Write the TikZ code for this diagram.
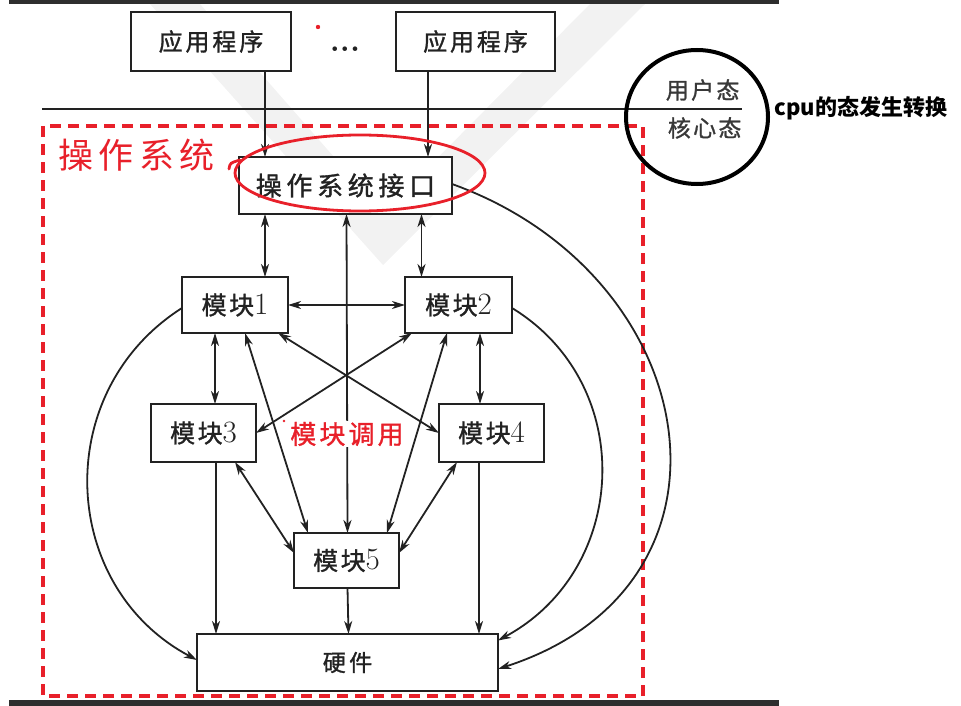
\documentclass[tikz,border=0pt]{standalone}
\usepackage{fontspec}
\newfontfamily\cjk{Noto Sans CJK SC}
\usetikzlibrary{arrows.meta,calc}
\definecolor{ink}{HTML}{222222}
\definecolor{osred}{HTML}{E8202A}
\definecolor{wm}{HTML}{F2F2F2}
\definecolor{bar}{HTML}{2E2E2E}
\newcommand\cjktxt[3]{{\fontsize{#1}{#1}\selectfont\cjk\addfontfeature{LetterSpace=#2}#3}}
\newcommand\cjkbold[3]{{\fontsize{#1}{#1}\selectfont\cjk\addfontfeature{LetterSpace=#2,FakeBold=1.2}#3}}
\newcommand\numtxt[2]{{\fontsize{#1}{#1}\selectfont\addfontfeature{FakeBold=1.5}#2}}
\begin{document}
\begin{tikzpicture}[x=1pt,y=-1pt,
  >={Stealth[length=13pt,width=8pt,inset=4pt]},
  box/.style={draw=ink,line width=2pt,fill=white,inner sep=0pt,outer sep=0pt,text=ink},
  conn/.style={draw=ink,line width=1.8pt,->},
  dconn/.style={draw=ink,line width=1.8pt,<->}]
\useasboundingbox (0,0) rectangle (961,706);
% watermark
\fill[wm] (150,4) -- (383,265) -- (645,4) -- (590,4) -- (383,213) -- (200,4) -- cycle;
% bars
\fill[bar] (9,0) rectangle (779,4);
\fill[bar] (9,700) rectangle (779,706);
% OS dashed region
\draw[osred,line width=3.2pt,dash pattern=on 11pt off 7pt] (43,126) rectangle (643,696);
% user/kernel boundary
\draw[ink,line width=2.4pt] (42,109) -- (742,109);

% nodes
\node[box,minimum width=160pt,minimum height=59pt] (app1) at (211,41.5) {\cjkbold{24}{12}{应用程序}};
\node[box,minimum width=159pt,minimum height=59pt] (app2) at (475.5,41.5) {\cjkbold{24}{12}{应用程序}};
\node[text=ink,inner sep=0pt] (dots) at (345,49) {{\fontsize{32}{32}\selectfont\bfseries ...}};
\node[box,minimum width=213pt,minimum height=57pt] (osi) at (345.5,185.5) {\cjkbold{26}{18}{操作系统接口}};
\node[box,minimum width=106pt,minimum height=56pt] (m1) at (235,305) {\cjkbold{25}{10}{模块}\numtxt{31}{1}};
\node[box,minimum width=107pt,minimum height=56pt] (m2) at (458.5,305) {\cjkbold{25}{10}{模块}\numtxt{31}{2}};
\node[box,minimum width=105pt,minimum height=58pt] (m3) at (203.5,433) {\cjkbold{25}{10}{模块}\numtxt{31}{3}};
\node[box,minimum width=105pt,minimum height=58pt] (m4) at (491.5,433) {\cjkbold{25}{10}{模块}\numtxt{31}{4}};
\node[box,minimum width=105pt,minimum height=55pt] (m5) at (346.5,560.5) {\cjkbold{25}{10}{模块}\numtxt{31}{5}};
\node[box,minimum width=301pt,minimum height=57pt] (hw) at (347.5,662.5) {\cjkbold{23}{15}{硬件}};

% app -> interface
\draw[conn] ([xshift=54pt]app1.south) -- ([xshift=-80.5pt]osi.north);
\draw[conn] ([xshift=-47.5pt]app2.south) -- ([xshift=82.5pt]osi.north);
% interface <-> modules
\draw[dconn] ([xshift=-80.5pt]osi.south) -- ([xshift=30pt]m1.north);
\draw[dconn] ([xshift=76pt]osi.south) -- ([xshift=-37pt]m2.north);
\draw[dconn] ([xshift=1pt]osi.south) -- ([xshift=1pt]m5.north);
% module links
\draw[dconn] (m1.east) -- (m2.west);
\draw[dconn] ([xshift=-20pt]m1.south) -- ([xshift=11.5pt]m3.north);
\draw[dconn] ([xshift=21.5pt]m2.south) -- ([xshift=-11.5pt]m4.north);
\draw[dconn] ([xshift=43pt]m1.south) -- (m4.west);
\draw[dconn] ([xshift=-46.5pt]m2.south) -- (m3.east);
\draw[dconn] ([xshift=10pt]m1.south) -- ([xshift=-38.5pt]m5.north);
\draw[dconn] ([xshift=-11.5pt]m2.south) -- ([xshift=40.5pt]m5.north);
\draw[dconn] ([xshift=31.5pt]m3.south) -- ([yshift=7.5pt]m5.west);
\draw[dconn] ([xshift=-34.5pt]m4.south) -- ([yshift=7.5pt]m5.east);
% to hardware
\draw[conn] ([xshift=12.5pt]m3.south) -- ([xshift=-131.5pt]hw.north);
\draw[conn] ([xshift=1pt]m5.south) -- ([xshift=1pt]hw.north);
\draw[conn] ([xshift=-12.5pt]m4.south) -- ([xshift=131.5pt]hw.north);
\draw[conn] ([yshift=-3pt]m1.west) .. controls (50,392) and (59,587) .. ([yshift=2.5pt]hw.west);
\draw[conn] ([yshift=-3pt]m2.east) .. controls (638,385) and (629,570) .. ([yshift=22pt]hw.east);
\draw[conn] ([yshift=1.5pt]osi.east) .. controls (705,275) and (758,585) .. ([yshift=-6.5pt]hw.east);

% labels
\node[fill=white,inner sep=1pt,text=osred] (call) at (347,434) {\cjkbold{26}{12}{模块调用}};
\node[anchor=west,text=osred] (ostitle) at (55,155) {\cjktxt{35}{15}{操作系统}};
\draw[osred,line width=2.8pt] (360,173) ellipse [x radius=125pt, y radius=38pt];
\draw[osred,line width=2.8pt,line cap=round] (229,169) .. controls (230,163) .. (240,160);
\fill[osred] (318,27) circle (2.2pt);
\fill[osred] (284,421) circle (1.3pt);

% state change circle
\draw[black,line width=4pt] (697,117) ellipse [x radius=71pt, y radius=67pt];
\node[anchor=east,text=ink!90] (user) at (743,90) {\cjkbold{23}{10}{用户态}};
\node[anchor=east,text=ink!90] (kern) at (745,128) {\cjkbold{23}{10}{核心态}};
\node[anchor=west,text=black] (cpu) at (771,108) {\fontsize{22}{22}\selectfont\cjk\bfseries cpu的态发生转换};
\end{tikzpicture}
\end{document}
